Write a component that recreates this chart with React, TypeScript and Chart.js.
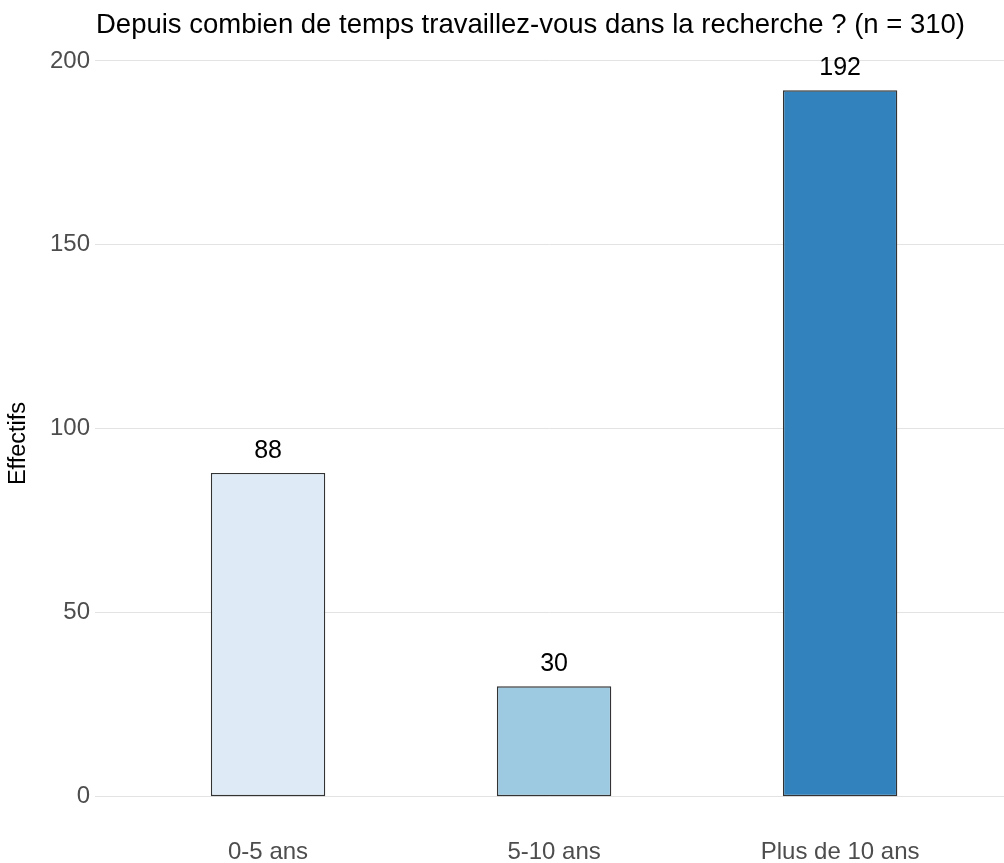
import React, { useEffect, useRef } from "react";
import { Chart, registerables } from "chart.js";

Chart.register(...registerables);

const categories = ["0-5 ans", "5-10 ans", "Plus de 10 ans"];
const counts = [88, 30, 192];
const barColors = ["#deebf7", "#9ecae1", "#3182bd"];
const yTicks = [0, 50, 100, 150, 200];
const titleText = "Depuis combien de temps travaillez-vous dans la recherche ? (n = 310)";
const yAxisTitle = "Effectifs";

const FONT = "'Liberation Sans', Arial, sans-serif";

const overlay = {
  id: "overlay",
  afterDatasetsDraw(chart: any) {
    const ctx = chart.ctx;
    const meta = chart.getDatasetMeta(0);
    ctx.save();
    ctx.fillStyle = "#000000";
    ctx.font = `25px ${FONT}`;
    ctx.textAlign = "center";
    ctx.textBaseline = "alphabetic";
    meta.data.forEach((bar: any, i: number) => {
      ctx.fillText(String(counts[i]), bar.x, bar.y - 15);
    });
    ctx.restore();
  },
  afterDraw(chart: any) {
    const ctx = chart.ctx;
    const area = chart.chartArea;
    ctx.save();
    ctx.fillStyle = "#000000";
    ctx.font = `27.5px ${FONT}`;
    ctx.textAlign = "left";
    ctx.textBaseline = "alphabetic";
    ctx.fillText(titleText, area.left + 1, 33);
    ctx.translate(19, (area.top + area.bottom) / 2);
    ctx.rotate(-Math.PI / 2);
    ctx.font = `23.5px ${FONT}`;
    ctx.textAlign = "center";
    ctx.textBaseline = "middle";
    ctx.fillText(yAxisTitle, 0, 0);
    ctx.restore();
  },
};

export default function App() {
  const ref = useRef<HTMLCanvasElement | null>(null);
  useEffect(() => {
    if (!ref.current) return;
    const chart = new Chart(ref.current, {
      type: "bar",
      data: {
        datasets: [
          {
            data: counts.map((v, i) => ({ x: i + 1, y: v })),
            backgroundColor: barColors,
            borderColor: "#333333",
            borderWidth: 1.4,
            borderSkipped: false,
            barPercentage: 0.4,
            categoryPercentage: 1,
          },
        ],
      },
      options: {
        animation: false,
        responsive: false,
        maintainAspectRatio: false,
        layout: { padding: { top: 55, left: 0, right: 0, bottom: 0 } },
        plugins: {
          legend: { display: false },
          tooltip: { enabled: false },
          title: { display: false },
        },
        scales: {
          x: {
            type: "linear",
            min: 0.395,
            max: 3.573,
            offset: false,
            grid: { display: false, drawTicks: false },
            border: { display: false },
            afterBuildTicks: (s: any) => {
              s.ticks = categories.map((_, i) => ({ value: i + 1 }));
            },
            afterFit: (s: any) => {
              s.height = 31;
            },
            ticks: {
              autoSkip: false,
              maxRotation: 0,
              padding: 6,
              color: "#4d4d4d",
              font: { family: FONT, size: 24 },
              callback: (v: any) => categories[Math.round(Number(v)) - 1] ?? "",
            },
          },
          y: {
            type: "linear",
            min: -9.6,
            max: 201.6,
            grid: { color: "#e3e3e3", lineWidth: 1, drawTicks: false },
            border: { display: false },
            afterBuildTicks: (s: any) => {
              s.ticks = yTicks.map((v) => ({ value: v }));
            },
            afterFit: (s: any) => {
              s.width = 95;
            },
            ticks: {
              padding: 5,
              color: "#4d4d4d",
              font: { family: FONT, size: 24 },
            },
          },
        },
      },
      plugins: [overlay],
    });
    return () => chart.destroy();
  }, []);
  return (
    <div style={{ position: "fixed", left: 0, top: 0, width: 1004, height: 863, background: "#ffffff" }}>
      <canvas ref={ref} width={1004} height={863} style={{ display: "block" }} />
    </div>
  );
}
